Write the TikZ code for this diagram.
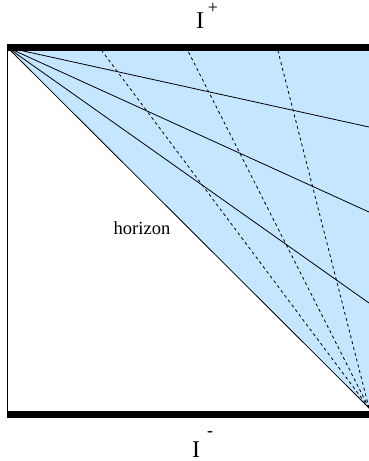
\documentclass[tikz,border=0pt]{standalone}
\usepackage{fontspec}
\setmainfont{Liberation Serif}
\definecolor{skyfill}{RGB}{196,230,255}
\begin{document}
\begin{tikzpicture}[x=1pt,y=-1pt,
  bar/.style={line width=7pt,black},
  ray/.style={line width=0.8pt,black},
  nullray/.style={line width=0.8pt,black,dash pattern=on 3pt off 3pt},
  scri/.style={font=\fontsize{24}{24}\selectfont,inner sep=0pt},
  supmark/.style={font=\fontsize{18}{18}\selectfont,inner sep=0pt},
  lbl/.style={font=\fontsize{18.5}{18.5}\selectfont,inner sep=0pt}]
\useasboundingbox (0,0) rectangle (369,461);
\coordinate (TL) at (7.5,47.5);
\coordinate (TR) at (369,47.5);
\coordinate (BL) at (7.5,414.5);
\coordinate (BR) at (369,414.5);
\coordinate (H) at (369,408);
\coordinate (S1) at (369,127);
\coordinate (S2) at (369,212);
\coordinate (S3) at (369,303);
\coordinate (D1) at (102,51);
\coordinate (D2) at (188,51);
\coordinate (D3) at (278,51);
% shaded region
\fill[skyfill] (TL) -- (TR) -- (H) -- cycle;
% left edge
\draw[line width=0.8pt] (TL) -- (BL);
% horizon
\draw[ray] (TL) -- (H);
% outgoing rays
\draw[ray] (TL) -- (S1);
\draw[ray] (TL) -- (S2);
\draw[ray] (TL) -- (S3);
% dashed rays
\draw[nullray] (H) -- (D1);
\draw[nullray] (H) -- (D2);
\draw[nullray] (H) -- (D3);
% bars
\draw[bar] (TL) ++(-0.5,0) coordinate (TLb) (TLb) -- (TR);
\draw[bar] (BL) ++(-0.5,0) coordinate (BLb) (BLb) -- (BR);
% labels
\node[scri,anchor=base] (Ip) at (200,28) {I};
\node[supmark] (plus) at (213,8) {+};
\node[scri,anchor=base] (Im) at (196,457) {I};
\node[supmark] (minus) at (210,434) {-};
\node[lbl,anchor=base] (hor) at (142,234) {horizon};
\end{tikzpicture}
\end{document}
